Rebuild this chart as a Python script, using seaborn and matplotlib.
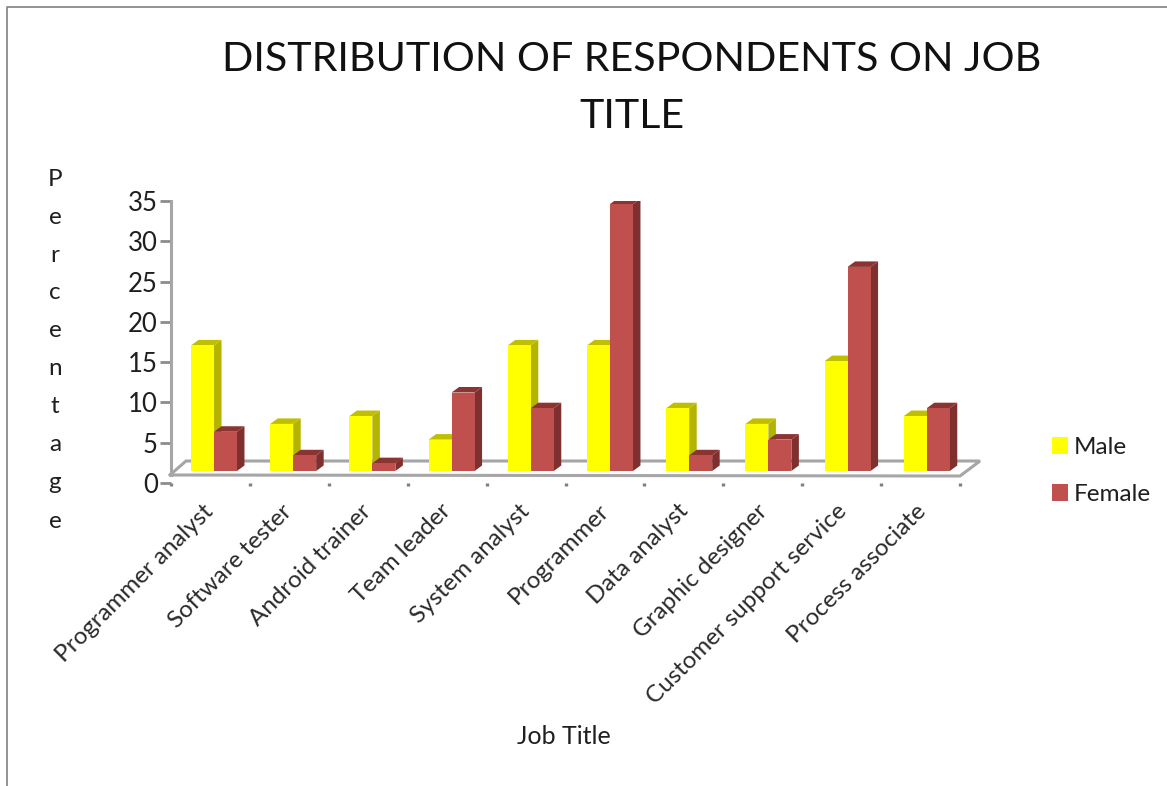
import numpy as np
import pandas as pd
import matplotlib
matplotlib.use("Agg")
import matplotlib.pyplot as plt
from matplotlib.lines import Line2D
from matplotlib.patches import Patch, Polygon
from matplotlib.transforms import ScaledTranslation
import seaborn as sns

job_titles = ["Programmer analyst", "Software tester", "Android trainer", "Team leader",
              "System analyst", "Programmer", "Data analyst", "Graphic designer",
              "Customer support service", "Process associate"]
male = [16, 6, 7, 4, 16, 16, 8, 6, 14, 7]
female = [5, 2, 1, 10, 8, 34, 2, 4, 26, 8]
series_names = ["Male", "Female"]
y_ticks = [0, 5, 10, 15, 20, 25, 30, 35]

W, H = 1167, 786
PXU = 7.85      # bar pixels per percentage unit
CAT = 79.2      # pixels per category
FLOOR_PX = 471
AX_L, AX_R, AX_T, AX_B = 171, 960, 201, 483
GRAY = "#a6a6a6"
DARK = "#1f1f1f"
FRONT = {"Male": "#ffff00", "Female": "#c0504d"}
SIDE = {"Male": "#b3b300", "Female": "#7f2f2d"}
TOP = {"Male": "#bfbf00", "Female": "#8c3432"}

sns.set_theme(style="white")
plt.rcParams["font.family"] = ["Lato", "DejaVu Sans"]

fig = plt.figure(figsize=(W / 100, H / 100), dpi=100, facecolor="white")
ax = fig.add_axes([AX_L / W, 1 - AX_B / H, (AX_R - AX_L) / W, (AX_B - AX_T) / H])
ax.patch.set_visible(False)

df = pd.DataFrame({
    "job": job_titles * 2,
    "pct": male + female,
    "sex": [series_names[0]] * len(male) + [series_names[1]] * len(female),
})
sns.barplot(data=df, x="job", y="pct", hue="sex", hue_order=series_names, palette=FRONT,
            width=0.58, gap=0, dodge=True, saturation=1, errorbar=None, legend=False,
            linewidth=0, ax=ax)

# bar axis: value 0 sits on the raised floor, the printed scale is on a twin axis
xlim = (-(214 - AX_L) / CAT, (AX_R - 214) / CAT)
ax.set_xlim(*xlim)
ax.set_ylim((FLOOR_PX - AX_B) / PXU, (FLOOR_PX - AX_T) / PXU)

# extruded faces derived from each bar
dx, dy = 7.5 / CAT, 5.5 / PXU
n = len(job_titles)
for i, bar in enumerate(ax.patches[:2 * n]):
    name = series_names[i // n]
    base = 2 + 2 * (i // n)
    bar.set_zorder(base + 1)
    a, b = bar.get_x(), bar.get_x() + bar.get_width()
    h = bar.get_height()
    ax.add_patch(Polygon([(b, 0), (b + dx, dy), (b + dx, h + dy), (b, h)], closed=True,
                         facecolor=SIDE[name], edgecolor="none", zorder=base))
    ax.add_patch(Polygon([(a, h), (a + dx, h + dy), (b + dx, h + dy), (b, h)], closed=True,
                         facecolor=TOP[name], edgecolor="none", zorder=base))

for s in ax.spines.values():
    s.set_visible(False)
ax.set_xlabel("")
ax.set_ylabel("")
ax.set_yticks([])
ax.set_xticks(range(n))
ax.set_xticklabels(job_titles, rotation=45, ha="right", rotation_mode="anchor",
                   fontsize=17.4, color="#2a2a2a")
ax.tick_params(axis="x", which="major", length=0, pad=12.5)
shift = ScaledTranslation(-12 / 100, 0, fig.dpi_scale_trans)
for lab in ax.get_xticklabels():
    lab.set_transform(lab.get_transform() + shift)
ax.set_xticks(np.linspace(xlim[0], xlim[1], n + 1), minor=True)
ax.tick_params(axis="x", which="minor", bottom=True, length=2.5, width=2.4, color="#808080", direction="out")

# printed percentage scale
ax2 = ax.twinx()
ax2.patch.set_visible(False)
ax2.set_ylim(0, 35)
ax2.set_yticks(y_ticks)
ax2.yaxis.tick_left()
ax2.tick_params(axis="y", length=8, width=2, color="#8c8c8c", pad=1.5, labelsize=18.5, labelcolor=DARK)
for s in ("top", "right", "bottom"):
    ax2.spines[s].set_visible(False)
ax2.spines["left"].set_color(GRAY)
ax2.spines["left"].set_linewidth(2.2)
ax2.spines["left"].set_bounds((AX_B - 475) / ((AX_B - AX_T) / 35), 35)
ax2.yaxis.set_label_position("left")
ax2.set_ylabel("\n".join("Percentage"), rotation=0, fontsize=17.5, color=DARK,
               ha="center", va="center", linespacing=2.0)
ax2.yaxis.set_label_coords((55 - AX_L) / (AX_R - AX_L), (AX_B - 350) / (AX_B - AX_T))


def px_line(xs, ys, **kw):
    fig.add_artist(Line2D([x / W for x in xs], [1 - y / H for y in ys],
                          transform=fig.transFigure, **kw))


# floor of the 3D plot, behind the axes
px_line([170, 960, 980, 186, 170], [475, 476, 461, 461, 475], color=GRAY, lw=2.2,
        zorder=-1, solid_joinstyle="miter")
# picture frame
px_line([7, 7, W], [H, 7, 7], color="#8a8a8a", lw=1.3, zorder=-1)

fig.suptitle("DISTRIBUTION OF RESPONDENTS ON JOB\nTITLE", x=632 / W, y=1 - 88 / H,
             va="center", ha="center", fontsize=29.7, color="#111111", linespacing=1.69)
fig.text(564 / W, 1 - 737 / H, "Job Title", ha="center", va="center", fontsize=18, color=DARK)

fig.legend(handles=[Patch(facecolor=FRONT[s], edgecolor="none", label=s) for s in series_names],
           loc="center left", bbox_to_anchor=(1052 / W, 1 - 471 / H), frameon=False,
           fontsize=17.5, handlelength=0.66, handleheight=0.72, handletextpad=0.22,
           labelspacing=1.05, labelcolor=DARK, borderpad=0, borderaxespad=0)

fig.savefig("out.png", dpi=100, facecolor="white")
